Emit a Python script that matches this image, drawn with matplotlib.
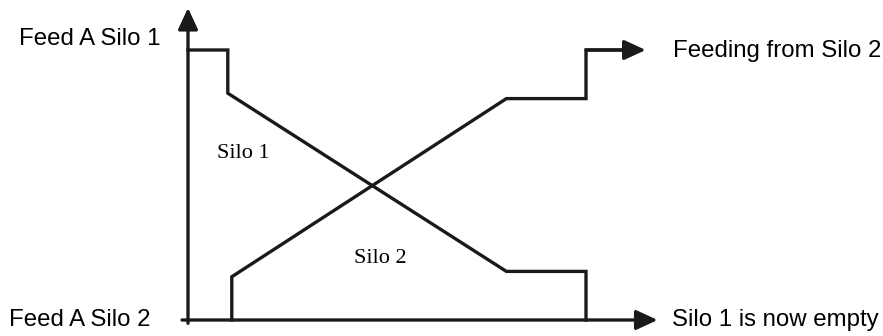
import matplotlib
matplotlib.use("Agg")
import matplotlib.pyplot as plt

# time axis 0..100 (silo 1 empty at 100), level 0..100
silo1_t = [0, 10, 10, 80, 100, 100]
silo1_level = [100, 100, 84, 18, 18, 0]
silo2_t = [11, 11, 80, 100, 100, 112]
silo2_level = [0, 16, 82, 82, 100, 100]
silo2_arrow_end = 115

axis_x_end = 118
axis_y_end = 115.6

labels_left = ["Feed A Silo 1", "Feed A Silo 2"]
labels_right = ["Feeding from Silo 2", "Silo 1 is now empty"]
region_labels = ["Silo 1", "Silo 2"]

W, H, DPI = 883, 336, 100
x0_px, y0_px = 188, 320
sx, sy = 3.98, 2.7   # px per data unit

fig = plt.figure(figsize=(W / DPI, H / DPI), dpi=DPI)
ax = fig.add_axes([0, 0, 1, 1])
ax.set_xlim(-x0_px / sx, (W - x0_px) / sx)
ax.set_ylim(-(H - y0_px) / sy, y0_px / sy)
ax.axis("off")

col = "#1a1a1a"
lw = 2.4
sans = ["Liberation Sans", "DejaVu Sans"]
serif = ["Liberation Serif", "DejaVu Serif"]

arrow = dict(arrowstyle="-|>,head_length=1.3,head_width=0.6", mutation_scale=10,
             lw=lw, color=col, shrinkA=0, shrinkB=0)

# axes with arrow heads
ax.annotate("", xy=(axis_x_end, 0), xytext=(-1.5, 0), arrowprops=arrow)
ax.annotate("", xy=(0, axis_y_end), xytext=(0, -1.2), arrowprops=arrow)

ax.plot(silo1_t, silo1_level, color=col, lw=lw, solid_joinstyle="miter")
ax.plot(silo2_t, silo2_level, color=col, lw=lw, solid_joinstyle="miter")
ax.annotate("", xy=(silo2_arrow_end, silo2_level[-1]), xytext=(silo2_t[-2], silo2_level[-1]),
            arrowprops=arrow)

fs = 17.3
ax.text(-7.0, 104, labels_left[0], ha="right", va="center", fontsize=fs, family=sans)
ax.text(-9.5, 0, labels_left[1], ha="right", va="center", fontsize=fs, family=sans)
ax.text(121.9, 99.8, labels_right[0], ha="left", va="center", fontsize=fs, family=sans)
ax.text(121.6, 0, labels_right[1], ha="left", va="center", fontsize=fs, family=sans)

ax.text(13.8, 61.5, region_labels[0], ha="center", va="center", fontsize=16, family=serif)
ax.text(48.2, 22.6, region_labels[1], ha="center", va="center", fontsize=16, family=serif)

fig.savefig("out.png", dpi=DPI)
